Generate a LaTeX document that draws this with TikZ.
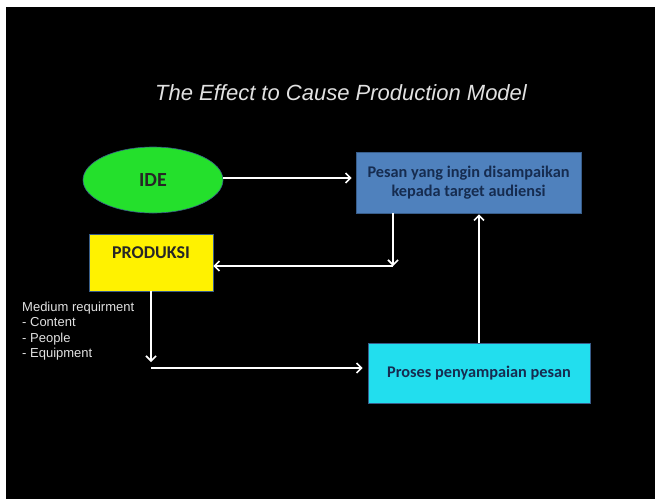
\documentclass[tikz,border=0pt]{standalone}
\usepackage{fontspec}
\setmainfont{Liberation Sans}
\newfontfamily\calib{Carlito}
\usetikzlibrary{shapes.geometric,arrows.meta}
\definecolor{idegreen}{RGB}{36,224,44}
\definecolor{boxblue}{RGB}{79,129,189}
\definecolor{boxblueborder}{RGB}{56,93,138}
\definecolor{procyan}{RGB}{34,222,238}
\definecolor{boxtext}{RGB}{22,44,80}
\definecolor{lightgray}{RGB}{225,225,225}
\tikzset{
  arr/.style={draw=white, line width=1.8pt, -{Straight Barb[length=5pt,width=10pt,line width=1.6pt]}},
  boxnode/.style={draw=boxblueborder, line width=0.6pt, inner sep=0pt, font=\calib\bfseries\fontsize{16.3}{19}\selectfont, text=boxtext, align=center},
}
\begin{document}
\begin{tikzpicture}[x=1pt,y=-1pt]
\useasboundingbox (0,0) rectangle (660,499);
\fill[white] (0,0) rectangle (660,499);
\fill[black] (6,7) rectangle (655,499);

\node[anchor=base, text=lightgray, font=\itshape\fontsize{22}{26}\selectfont] (title) at (341,100) {The Effect to Cause Production Model};

\node[ellipse, fill=idegreen, draw=boxblueborder, line width=0.6pt, minimum width=140pt, minimum height=66pt, inner sep=0pt, font=\calib\bfseries\fontsize{20}{24}\selectfont, text=black!85] (ide) at (153,180) {IDE};

\node[boxnode, fill=boxblue, minimum width=225pt, minimum height=61pt] (pesan) at (468.5,182.5) {Pesan yang ingin disampaikan\\kepada target audiensi};

\node[draw=boxblueborder, line width=0.6pt, fill=yellow, minimum width=124pt, minimum height=57pt, inner sep=0pt] (produksi) at (151,262.5) {};
\node[font=\calib\bfseries\fontsize{18}{22}\selectfont, text=black!85, inner sep=0pt] (produksilabel) at ([yshift=9.5pt]produksi.center) {PRODUKSI};

\node[boxnode, fill=procyan, minimum width=222pt, minimum height=60pt] (proses) at (479,373) {Proses penyampaian pesan};

\node[anchor=north west, align=left, text=lightgray, inner sep=0pt, font=\fontsize{13}{15.3}\selectfont] (medium) at (22,302) {Medium requirment\\- Content\\- People\\- Equipment};

\coordinate (c1) at (393,266);
\coordinate (c2) at (151,362);
\coordinate (c3) at (151,368);

\draw[arr, shorten >=4pt] (ide.east |- 0,178) -- (pesan.west |- 0,178);
\draw[arr] (pesan.south -| c1) -- (c1);
\draw[arr] (c1) -- (c1 -| produksi.east);
\draw[arr, shorten >=1pt] (proses.north) -- (proses.north |- pesan.south);
\draw[arr] (produksi.south) -- (c2);
\draw[arr, shorten >=5pt] (c3) -- (c3 -| proses.west);
\end{tikzpicture}
\end{document}
